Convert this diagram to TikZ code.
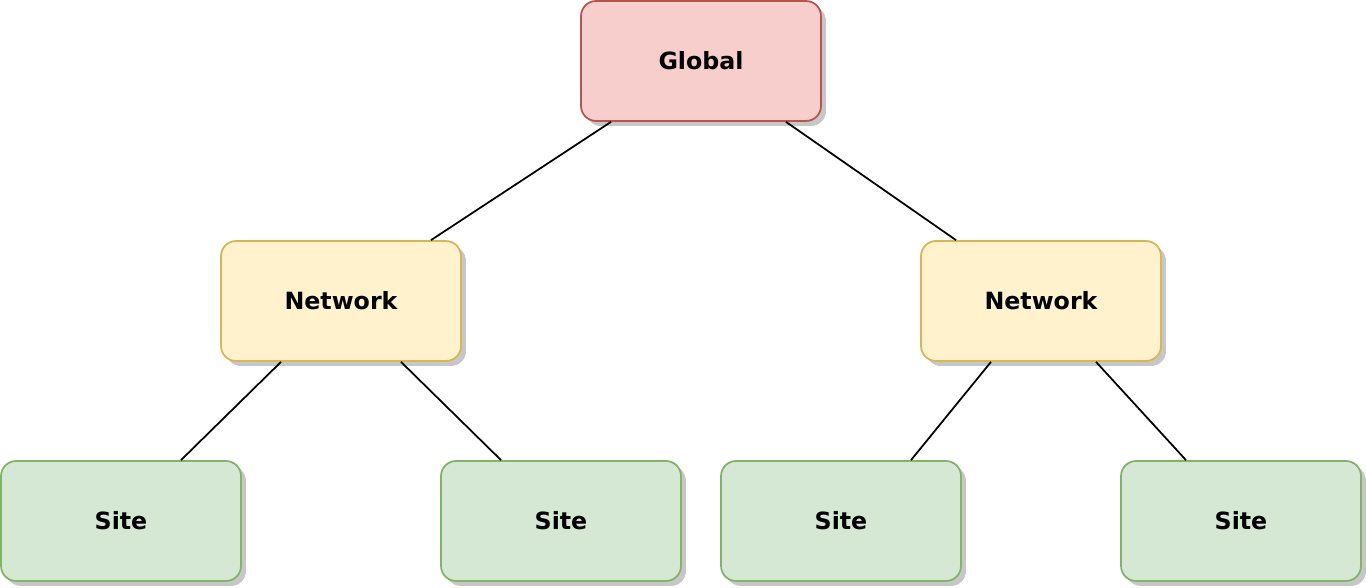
\documentclass[tikz,border=0pt]{standalone}
\usepackage{fontspec}
\setmainfont{DejaVu Sans}
\usetikzlibrary{shadows}
\definecolor{redfill}{HTML}{F8CECC}
\definecolor{redline}{HTML}{B85450}
\definecolor{yelfill}{HTML}{FFF2CC}
\definecolor{yelline}{HTML}{D6B656}
\definecolor{grnfill}{HTML}{D5E8D4}
\definecolor{grnline}{HTML}{82B366}
\tikzset{
  box/.style={rectangle, rounded corners=0.3cm, line width=1pt, minimum width=4.8cm, minimum height=2.4cm, inner sep=0pt,
    font=\bfseries\fontsize{13.5}{16}\selectfont,
    drop shadow={shadow xshift=0.1cm, shadow yshift=-0.1cm, fill=black!22, opacity=1}},
  globalbox/.style={box, draw=redline, fill=redfill},
  netbox/.style={box, draw=yelline, fill=yelfill},
  sitebox/.style={box, draw=grnline, fill=grnfill},
  link/.style={line width=1pt, black}
}

\begin{document}
\begin{tikzpicture}[x=0.02cm,y=-0.02cm]
\useasboundingbox (0,0) rectangle (1366,588);
\node[globalbox] (global) at (701,61) {Global};
\node[netbox] (netl) at (341,301) {Network};
\node[netbox] (netr) at (1041,301) {Network};
\node[sitebox] (sitea) at (121,521) {Site};
\node[sitebox] (siteb) at (561,521) {Site};
\node[sitebox] (sitec) at (841,521) {Site};
\node[sitebox] (sited) at (1241,521) {Site};
\draw[link] ([xshift=-1.8cm]global.south) -- ([xshift=1.8cm]netl.north);
\draw[link] ([xshift=1.7cm]global.south) -- ([xshift=-1.7cm]netr.north);
\draw[link] ([xshift=-1.2cm]netl.south) -- ([xshift=1.2cm]sitea.north);
\draw[link] ([xshift=1.2cm]netl.south) -- ([xshift=-1.2cm]siteb.north);
\draw[link] ([xshift=-1cm]netr.south) -- ([xshift=1.4cm]sitec.north);
\draw[link] ([xshift=1.1cm]netr.south) -- ([xshift=-1.1cm]sited.north);
\end{tikzpicture}
\end{document}
